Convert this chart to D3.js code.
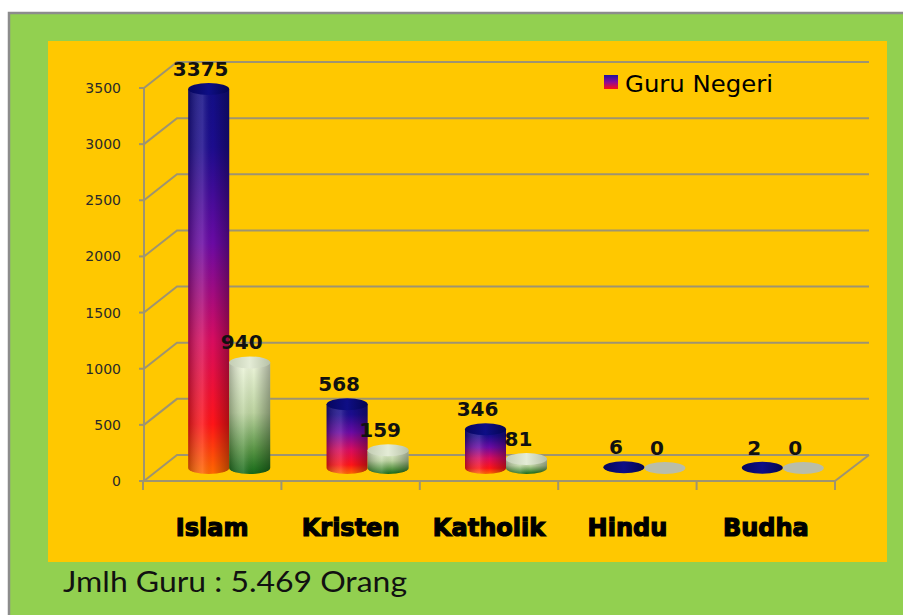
<!DOCTYPE html>
<html lang="id">

<head>
    <meta charset="utf-8">
    <title>Jumlah Guru</title>
    <script src="https://cdn.jsdelivr.net/npm/d3@7/dist/d3.min.js"></script>
    <style>
        body {
            margin: 0;
            background: #fff;
        }

        .grid {
            stroke: #9e9470;
            stroke-width: 2;
            fill: none;
        }

        .tick-label {
            font-family: "DejaVu Sans", sans-serif;
            font-size: 14px;
            fill: #2a2a2a;
        }

        .cat-label {
            font-family: "DejaVu Sans", sans-serif;
            font-weight: bold;
            font-size: 24px;
            fill: #000;
            stroke: #000;
            stroke-width: 1.2;
        }

        .val-label {
            font-family: "DejaVu Sans", sans-serif;
            font-weight: bold;
            font-size: 20px;
            fill: #111;
        }
    </style>
</head>

<body>
    <script type="text/javascript">
        var categories = ['Islam', 'Kristen', 'Katholik', 'Hindu', 'Budha'];
        var series = ['Guru Negeri', 'Guru Swasta'];
        var guruNegeri = [3375, 568, 346, 6, 2];
        var guruSwasta = [940, 159, 81, 0, 0];
        var yTicks = [0, 500, 1000, 1500, 2000, 2500, 3000, 3500];
        var legendItems = ['Guru Negeri'];
        var footerText = 'Jmlh Guru : 5.469 Orang';

        var svgWidth = 903, svgHeight = 615;
        var depthX = 34, depthY = 26;   // 3d depth of the chart box
        var rx = 20.5, ry = 6;

        var svg = d3.select('body')
            .append('svg')
            .attr('width', svgWidth)
            .attr('height', svgHeight);

        var y = d3.scaleLinear().domain([0, 3500]).range([481, 88]);
        var x = d3.scaleBand().domain(categories).range([143, 835]);
        var xSub = d3.scaleBand().domain(series).range([-rx * 2, rx * 2]);

        var values = {};
        values[series[0]] = guruNegeri;
        values[series[1]] = guruSwasta;

        var bars = [];
        categories.forEach((c, i) => {
            series.forEach((s) => {
                bars.push({ cat: c, series: s, value: values[s][i] });
            });
        });

        function barCenter(d) {
            return x(d.cat) + x.bandwidth() / 2 + depthX / 2 + xSub(d.series) + xSub.bandwidth() / 2;
        }

        function defs() {
            var df = svg.append('defs');
            var g1 = df.append('linearGradient').attr('id', 'negeri')
                .attr('x1', 0).attr('y1', 0).attr('x2', 0).attr('y2', 1);
            [[0, '#120e86'], [0.15, '#1c0c8e'], [0.4, '#6a0aa4'], [0.65, '#d80c60'],
            [0.87, '#ff1418'], [1, '#ff6a00']].forEach((s) => {
                g1.append('stop').attr('offset', s[0]).attr('stop-color', s[1]);
            });
            var g2 = df.append('linearGradient').attr('id', 'swasta')
                .attr('x1', 0).attr('y1', 0).attr('x2', 0).attr('y2', 1);
            [[0, '#eef6dc'], [0.45, '#bcd3a0'], [0.78, '#5a9646'], [1, '#166a18']].forEach((s) => {
                g2.append('stop').attr('offset', s[0]).attr('stop-color', s[1]);
            });
            var g3 = df.append('linearGradient').attr('id', 'shade')
                .attr('x1', 0).attr('y1', 0).attr('x2', 1).attr('y2', 0);
            [[0, '#000', 0.28], [0.35, '#fff', 0.14], [0.6, '#000', 0], [1, '#000', 0.32]].forEach((s) => {
                g3.append('stop').attr('offset', s[0]).attr('stop-color', s[1]).attr('stop-opacity', s[2]);
            });
            var g4 = df.append('linearGradient').attr('id', 'topNegeri')
                .attr('x1', 0).attr('y1', 0).attr('x2', 1).attr('y2', 0);
            g4.append('stop').attr('offset', 0).attr('stop-color', '#06065e');
            g4.append('stop').attr('offset', 0.5).attr('stop-color', '#0e0e86');
            g4.append('stop').attr('offset', 1).attr('stop-color', '#050550');
            var g5 = df.append('linearGradient').attr('id', 'topSwasta')
                .attr('x1', 0).attr('y1', 0).attr('x2', 1).attr('y2', 0);
            g5.append('stop').attr('offset', 0).attr('stop-color', '#c3cdb4');
            g5.append('stop').attr('offset', 0.5).attr('stop-color', '#e4ecd6');
            g5.append('stop').attr('offset', 1).attr('stop-color', '#b8c2a8');
            var g6 = df.append('linearGradient').attr('id', 'legendNegeri')
                .attr('x1', 0).attr('y1', 0).attr('x2', 0).attr('y2', 1);
            g6.append('stop').attr('offset', 0).attr('stop-color', '#2010a0');
            g6.append('stop').attr('offset', 0.5).attr('stop-color', '#8a0a9a');
            g6.append('stop').attr('offset', 1).attr('stop-color', '#ff1010');
        }

        function drawBackground() {
            svg.append('rect')
                .attr('x', 9).attr('y', 13)
                .attr('width', svgWidth).attr('height', svgHeight)
                .attr('fill', '#92d050')
                .attr('stroke', '#8c8c8c').attr('stroke-width', 2.5);
            svg.append('rect')
                .attr('x', 48).attr('y', 41)
                .attr('width', 839).attr('height', 521)
                .attr('fill', '#ffc800');
        }

        function drawGrid() {
            var x0 = x.range()[0], x1 = x.range()[1];
            var g = svg.append('g');
            g.selectAll('path.grid')
                .data(yTicks)
                .enter().append('path')
                .attr('class', 'grid')
                .attr('d', (d) => {
                    var p = d3.path();
                    p.moveTo(x0 + 1, y(d));
                    p.lineTo(x0 + depthX, y(d) - depthY);
                    p.lineTo(x1 + depthX, y(d) - depthY);
                    return p.toString();
                });
            // floor
            g.append('path')
                .attr('class', 'grid')
                .attr('d', () => {
                    var p = d3.path();
                    p.moveTo(x0, y(0));
                    p.lineTo(x1, y(0));
                    p.lineTo(x1 + depthX, y(0) - depthY);
                    return p.toString();
                });
            // y axis
            g.append('line')
                .attr('class', 'grid')
                .attr('x1', x0 + 1).attr('x2', x0 + 1)
                .attr('y1', y(3500)).attr('y2', y(0));
            g.selectAll('line.ytick')
                .data(yTicks)
                .enter().append('line')
                .attr('class', 'grid ytick')
                .attr('x1', x0 - 4).attr('x2', x0 + 1)
                .attr('y1', (d) => y(d)).attr('y2', (d) => y(d));
            // x ticks on category borders
            var borders = categories.map((c) => x(c)).concat([x1]);
            g.selectAll('line.xtick')
                .data(borders)
                .enter().append('line')
                .attr('class', 'grid xtick')
                .attr('x1', (d) => d).attr('x2', (d) => d)
                .attr('y1', y(0)).attr('y2', y(0) + 9);

            svg.append('g').selectAll('text')
                .data(yTicks)
                .enter().append('text')
                .attr('class', 'tick-label')
                .attr('x', 121)
                .attr('y', (d) => y(d) + 5)
                .attr('text-anchor', 'end')
                .text((d) => d);

            svg.append('g').selectAll('text')
                .data(categories)
                .enter().append('text')
                .attr('class', 'cat-label')
                .attr('x', (d) => x(d) + x.bandwidth() / 2)
                .attr('y', 536)
                .attr('text-anchor', 'middle')
                .text((d) => d);
        }

        function drawBars() {
            var yBase = y(0) - depthY / 2;
            var g = svg.append('g');
            var bar = g.selectAll('g')
                .data(bars)
                .enter().append('g');

            // cylinder side: straight walls with a half ellipse at the bottom
            function body(d) {
                var cx = barCenter(d), top = y(d.value) - depthY / 2;
                return 'M' + (cx - rx) + ',' + top +
                    'L' + (cx - rx) + ',' + yBase +
                    'A' + rx + ',' + ry + ' 0 0 0 ' + (cx + rx) + ',' + yBase +
                    'L' + (cx + rx) + ',' + top + 'Z';
            }
            var tall = bar.filter((d) => yBase - y(d.value) + depthY / 2 > 2);
            tall.append('path')
                .attr('d', body)
                .attr('fill', (d) => d.series === series[0] ? 'url(#negeri)' : 'url(#swasta)');
            tall.append('path')
                .attr('d', body)
                .attr('fill', 'url(#shade)');

            bar.append('ellipse')
                .attr('cx', barCenter)
                .attr('cy', (d) => y(d.value) - depthY / 2)
                .attr('rx', rx).attr('ry', ry)
                .attr('fill', (d) => {
                    if (d.series === series[0]) return 'url(#topNegeri)';
                    return d.value > 0 ? 'url(#topSwasta)' : '#b9bda9';
                });
        }

        function drawLabels() {
            svg.append('g').selectAll('text')
                .data(bars)
                .enter().append('text')
                .attr('class', 'val-label')
                .attr('x', (d) => barCenter(d) - 8)
                .attr('y', (d) => y(d.value) - depthY / 2 - 13)
                .attr('text-anchor', 'middle')
                .text((d) => d.value);
        }

        function drawLegend() {
            var lg = svg.append('g').selectAll('g')
                .data(legendItems)
                .enter().append('g');
            lg.append('rect')
                .attr('x', 604).attr('y', 75)
                .attr('width', 14).attr('height', 14)
                .attr('fill', 'url(#legendNegeri)');
            lg.append('text')
                .attr('x', 625).attr('y', 92)
                .style('font-family', '"DejaVu Sans", sans-serif')
                .style('font-size', '23px')
                .attr('textLength', 148)
                .attr('lengthAdjust', 'spacingAndGlyphs')
                .text((d) => d);
        }

        function drawFooter() {
            svg.append('text')
                .attr('x', 63).attr('y', 592)
                .style('font-family', 'Lato, "Open Sans", sans-serif')
                .style('font-size', '29px')
                .attr('fill', '#111')
                .attr('textLength', 344)
                .attr('lengthAdjust', 'spacingAndGlyphs')
                .text(footerText);
        }

        defs();
        drawBackground();
        drawGrid();
        drawBars();
        drawLabels();
        drawLegend();
        drawFooter();
    </script>
</body>

</html>
